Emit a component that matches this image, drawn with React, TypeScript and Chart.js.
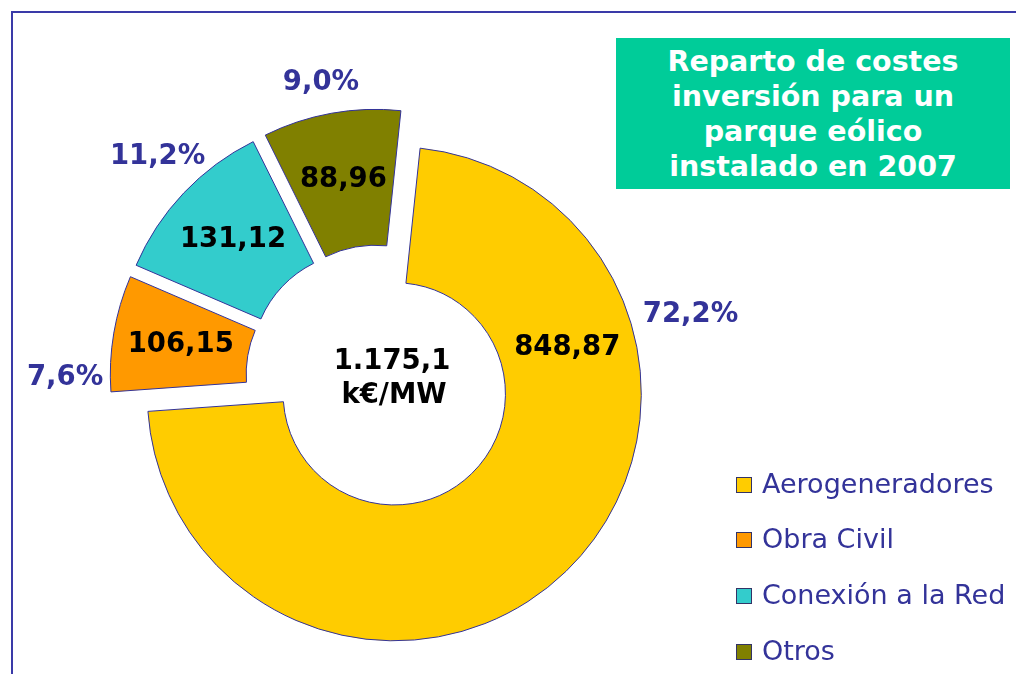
import React, { useEffect, useRef } from "react";
import { Chart, registerables } from "chart.js";

Chart.register(...registerables);

// ---- data ----
const CATEGORIES = ["Aerogeneradores", "Obra Civil", "Conexión a la Red", "Otros"];
const SHARE_PCT = [72.2, 7.6, 11.2, 9.0];
const VALUE_LABELS = [848.87, 106.15, 131.12, 88.96];
const CENTER_LABEL = ["1.175,1", "k€/MW"];
const TITLE_LINES = ["Reparto de costes", "inversión para un", "parque eólico", "instalado en 2007"];

// ---- styles ----
const COLORS = ["#FFCC00", "#FF9900", "#33CCCC", "#808000"];
const BORDER = "#333399";
const TEXT_BLUE = "#333399";
const ROTATION_DEG = 6;
const OUTER_RADIUS = 247;
const CUTOUT = "45%";
const EXPLODE_PX = 22;
const VALUE_FRAC = [0.2655, 0.5, 0.5, 0.5];
const PCT_FRAC = [0.2655, 0.125, 0.54, 0.47];
const PCT_GAP = [11, 7, 3, 15];
const FONT = '"DejaVu Sans", Verdana, sans-serif';

const fmtValue = (v: number) => v.toFixed(2).replace(".", ",");
const fmtPct = (v: number) => v.toFixed(1).replace(".", ",") + "%";

const explodePlugin = {
  id: "explodeSlices",
  afterDatasetUpdate(_chart: any, args: any) {
    args.meta.data.forEach((arc: any) => {
      const mid = (arc.startAngle + arc.endAngle) / 2;
      arc.x += Math.cos(mid) * EXPLODE_PX;
      arc.y += Math.sin(mid) * EXPLODE_PX;
    });
  },
};

const labelPlugin = {
  id: "sliceLabels",
  afterDatasetsDraw(chart: any) {
    const ctx = chart.ctx;
    const meta = chart.getDatasetMeta(0);
    ctx.save();
    ctx.textAlign = "center";
    ctx.textBaseline = "middle";
    meta.data.forEach((arc: any, i: number) => {
      const p = arc.getProps(["x", "y", "startAngle", "endAngle", "innerRadius", "outerRadius"], true);
      const span = p.endAngle - p.startAngle;
      // value inside
      const a1 = p.startAngle + span * VALUE_FRAC[i];
      const rMid = (p.innerRadius + p.outerRadius) / 2;
      ctx.font = `bold 27.5px ${FONT}`;
      ctx.fillStyle = "#000000";
      ctx.fillText(fmtValue(VALUE_LABELS[i]), p.x + Math.cos(a1) * rMid, p.y + Math.sin(a1) * rMid);
      // percent outside
      const a2 = p.startAngle + span * PCT_FRAC[i];
      const txt = fmtPct(SHARE_PCT[i]);
      ctx.font = `bold 27.5px ${FONT}`;
      const w = ctx.measureText(txt).width;
      const h = 20;
      const dx = Math.cos(a2);
      const dy = Math.sin(a2);
      const ext = Math.abs(dx) * w / 2 + Math.abs(dy) * h / 2;
      const d = p.outerRadius + PCT_GAP[i] + ext;
      ctx.fillStyle = TEXT_BLUE;
      ctx.fillText(txt, p.x + dx * d, p.y + dy * d);
    });
    // centre label
    const ca = chart.chartArea;
    const cx = (ca.left + ca.right) / 2;
    const cy = (ca.top + ca.bottom) / 2;
    ctx.font = `bold 27.5px ${FONT}`;
    ctx.fillStyle = "#000000";
    ctx.fillText(CENTER_LABEL[0], cx + 13, cy - 16);
    ctx.fillText(CENTER_LABEL[1], cx + 15, cy + 18);
    ctx.restore();
  },
};

function DonutChart() {
  const ref = useRef<HTMLCanvasElement | null>(null);
  useEffect(() => {
    if (!ref.current) return;
    const chart = new Chart(ref.current, {
      type: "doughnut",
      data: {
        labels: CATEGORIES,
        datasets: [
          {
            data: SHARE_PCT,
            backgroundColor: COLORS,
            borderColor: BORDER,
            borderWidth: 1,
            borderJoinStyle: "miter",
            radius: OUTER_RADIUS,
            clip: false,
          } as any,
        ],
      },
      options: {
        animation: false,
        responsive: false,
        maintainAspectRatio: false,
        cutout: CUTOUT,
        rotation: ROTATION_DEG,
        layout: { padding: { left: 0, right: 258, top: 82, bottom: 0 } },
        plugins: {
          legend: { display: false },
          title: { display: false },
          tooltip: { enabled: false },
        },
      } as any,
      plugins: [explodePlugin, labelPlugin],
    });
    return () => chart.destroy();
  }, []);
  return (
    <canvas
      ref={ref}
      width={1016}
      height={674}
      style={{ position: "absolute", left: 0, top: 0, width: 1016, height: 674 }}
    />
  );
}

export default function App() {
  return (
    <div
      style={{
        position: "fixed",
        left: 0,
        top: 0,
        width: 1016,
        height: 674,
        background: "#ffffff",
        overflow: "hidden",
      }}
    >
      <div
        style={{
          position: "absolute",
          left: 11,
          top: 11,
          width: 1100,
          height: 800,
          borderTop: "2px solid #3a3aa8",
          borderLeft: "2px solid #3a3aa8",
        }}
      />
      <DonutChart />
      <div
        style={{
          position: "absolute",
          left: 616,
          top: 38,
          width: 394,
          height: 151,
          background: "#00CC99",
          color: "#ffffff",
          font: `bold 28.5px ${FONT}`,
          lineHeight: "35px",
          textAlign: "center",
          paddingTop: 6,
          boxSizing: "border-box",
        }}
      >
        {TITLE_LINES.map((l) => (
          <div key={l} style={{ whiteSpace: "nowrap" }}>{l}</div>
        ))}
      </div>
      {CATEGORIES.map((c, i) => (
        <div
          key={c}
          style={{
            position: "absolute",
            left: 736,
            top: 483 + i * 55.8 - 16,
            height: 32,
            display: "flex",
            alignItems: "center",
            whiteSpace: "nowrap",
          }}
        >
          <span
            style={{
              display: "inline-block",
              width: 14,
              height: 14,
              background: COLORS[i],
              border: "1px solid #333366",
              marginRight: 10,
              marginTop: 3,
            }}
          />
          <span style={{ font: `27px ${FONT}`, color: TEXT_BLUE }}>{c}</span>
        </div>
      ))}
    </div>
  );
}
